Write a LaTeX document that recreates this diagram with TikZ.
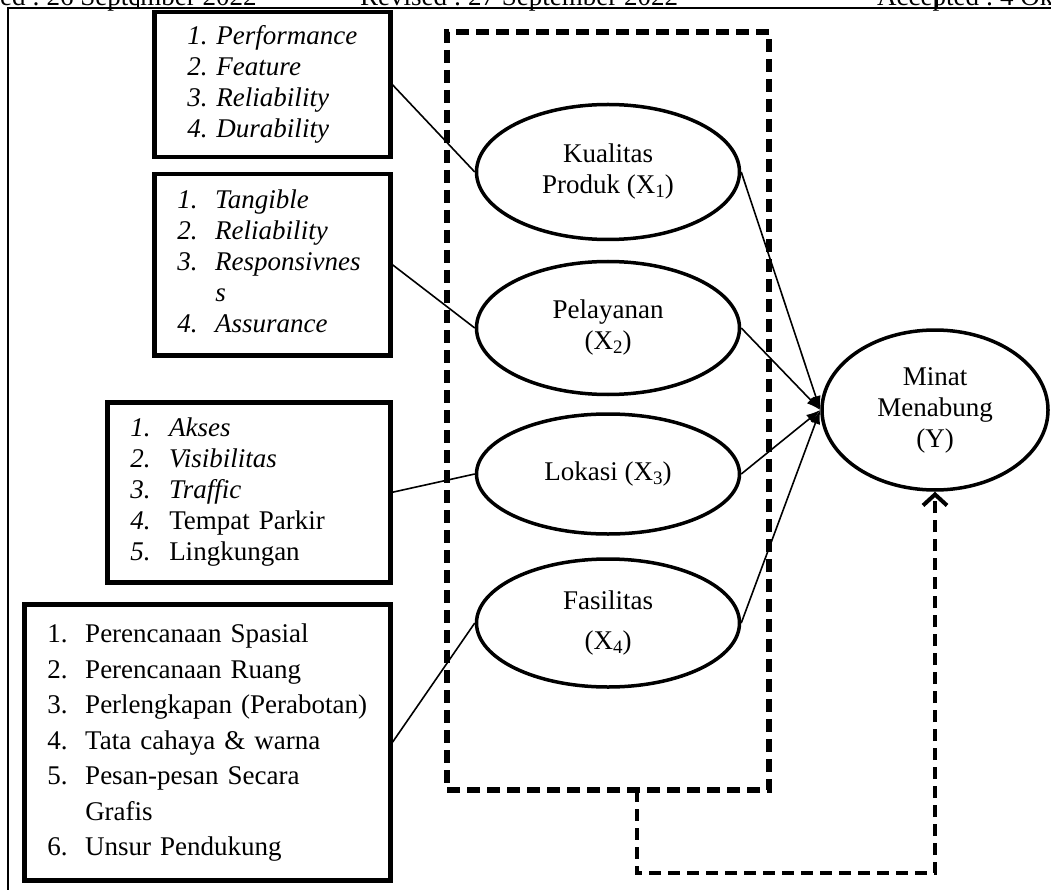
\documentclass[tikz,border=0pt]{standalone}
\usepackage{fontspec}
\setmainfont{Liberation Serif}
\usetikzlibrary{shapes.geometric,arrows.meta}

\newcommand{\idx}[1]{{\fontsize{19}{19}\selectfont\raisebox{-4pt}{#1}}}

\begin{document}
\begin{tikzpicture}[x=1pt,y=-1pt,
  every node/.style={font=\fontsize{27}{31}\selectfont\frenchspacing},
  ind/.style={draw,line width=4.5pt,rectangle,anchor=north west,align=left,inner ysep=0pt},
  var/.style={draw,ellipse,line width=3.5pt,minimum width=263pt,minimum height=135pt,inner sep=0pt,align=center},
  link/.style={line width=1.6pt},
  hit/.style={line width=1.6pt,-{Latex[length=14pt,width=10pt]}},
  balik/.style={line width=4pt,dash pattern=on 12pt off 7pt,-{Straight Barb[length=11pt,width=24pt]}},
  grpbox/.style={draw,line width=5.5pt,dash pattern=on 13pt off 7pt,minimum width=322pt,minimum height=758pt,inner sep=0pt}]

  \useasboundingbox (0,0) rectangle (1051,890);
  \clip (0,0) rectangle (1051,890);

  % kop halaman (terpotong)
  \draw[line width=1.5pt] (8,890) -- (8,8) -- (1051,8);
  \draw[line width=1.5pt] (138,8) -- (138,0);
  \draw[line width=1.5pt] (937,8) -- (937,0);
  \node[anchor=base west,inner sep=0pt] (kop1) at (0,6) {ed : 26 September 2022};
  \node[anchor=base west,inner sep=0pt] (kop2) at (360,6) {Revised : 27 September 2022};
  \node[anchor=base west,inner sep=0pt] (kop3) at (877,6) {Accepted : 4 Oktober 2022};

  % kotak putus-putus variabel X
  \node[grpbox] (grp) at (608,411) {};

  % variabel
  \node[var] (x1) at (608,172) {Kualitas\\Produk (X\idx{1})};
  \node[var,minimum height=133pt] (x2) at (608,328) {Pelayanan\\(X\idx{2})};
  \node[var,minimum height=120pt] (x3) at (608,474) {Lokasi (X\idx{3})};
  \node[var,minimum height=128pt] (x4) at (608,623) {Fasilitas\\[9pt](X\idx{4})};
  \node[var,minimum width=226pt,minimum height=160pt] (y) at (935,410) {Minat\\Menabung\\(Y)};

  % indikator
  \node[ind,minimum width=236pt,minimum height=145pt,inner xsep=33pt,text width=170pt,
    font=\fontsize{27}{31}\selectfont\frenchspacing\itshape] (b1) at (152,10)
    {\begin{tabular}{@{}l@{}}
      1. Performance\\
      2. Feature\\
      3. Reliability\\
      4. Durability
    \end{tabular}};
  \node[ind,minimum width=236pt,minimum height=181pt,inner xsep=23pt,text width=190pt,
    font=\fontsize{27}{31}\selectfont\itshape] (b2) at (152,172)
    {\begin{tabular}{@{}p{38pt}@{}l@{}}
      1. & Tangible\\
      2. & Reliability\\
      3. & Responsivnes\\
         & s\\
      4. & Assurance
    \end{tabular}};
  \node[ind,minimum width=283pt,minimum height=180pt,inner xsep=23pt,text width=237pt] (b3) at (105,400)
    {\begin{tabular}{@{}p{39pt}@{}l@{}}
      \textit{1.} & \textit{Akses}\\
      \textit{2.} & \textit{Visibilitas}\\
      \textit{3.} & \textit{Traffic}\\
      \textit{4.} & Tempat Parkir\\
      \textit{5.} & Lingkungan
    \end{tabular}};
  \node[ind,minimum width=366pt,minimum height=276pt,inner xsep=23pt,text width=320pt,
    font=\fontsize{27}{35.5}\selectfont] (b4) at (22,602)
    {\begin{tabular}{@{}p{38pt}@{}l@{}}
      1. & Perencanaan Spasial\\
      2. & Perencanaan Ruang\\
      3. & Perlengkapan (Perabotan)\\
      4. & Tata cahaya \& warna\\
      5. & Pesan-pesan Secara\\
         & Grafis\\
      6. & Unsur Pendukung
    \end{tabular}};

  % garis indikator
  \draw[link] (b1.east) -- (x1.west);
  \draw[link] (b2.east) -- (x2.west);
  \draw[link] (b3.east) -- (x3.west);
  \draw[link] (b4.east) -- (x4.west);

  % panah ke Y
  \draw[hit] (x1.east) -- (y.west);
  \draw[hit] (x2.east) -- (y.west);
  \draw[hit] (x3.east) -- (y.west);
  \draw[hit] (x4.east) -- (y.west);

  % pengaruh simultan
  \coordinate (fb) at (637,790);
  \draw[balik] (fb) -- ++(0,83) -| (y.south);
\end{tikzpicture}
\end{document}
